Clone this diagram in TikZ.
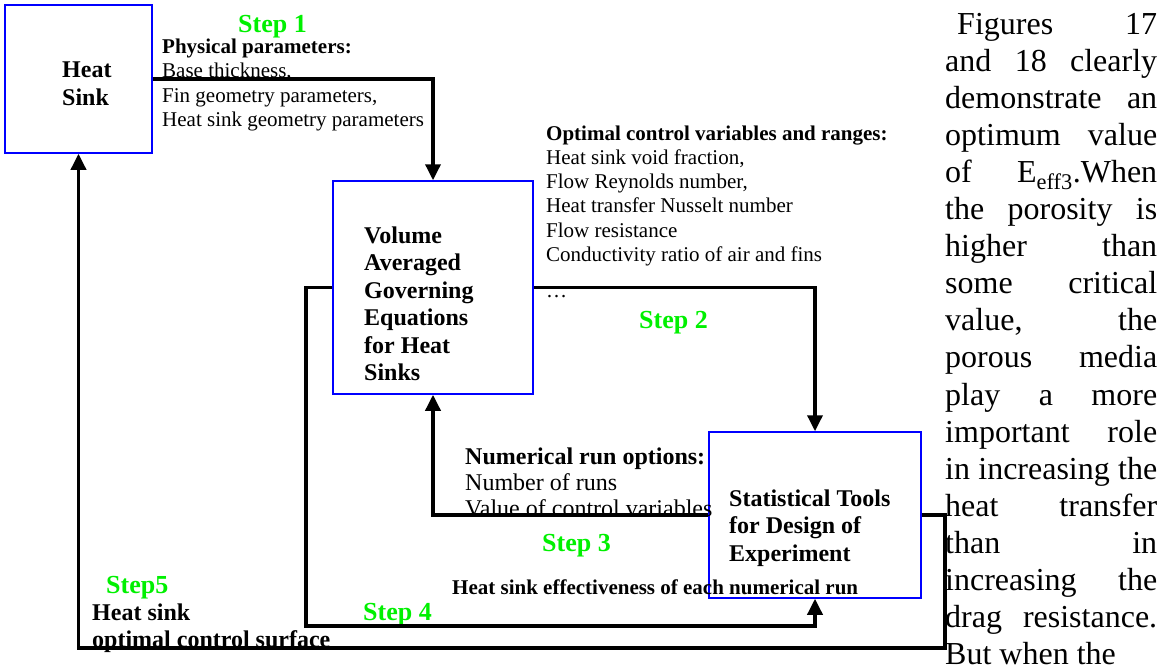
\documentclass[tikz,border=0pt]{standalone}
\usepackage{fontspec}
\setmainfont{Liberation Serif}
\usetikzlibrary{arrows.meta}
\definecolor{stepgreen}{RGB}{0,240,0}
\definecolor{boxblue}{RGB}{0,0,255}
\newcommand{\stk}[2]{\vtop{\baselineskip=#1\relax\lineskiplimit=-\maxdimen\lineskip=0pt #2}}
\newcommand{\fs}[1]{\fontsize{#1}{#1}\selectfont}
\newcommand{\jl}[1]{\hbox{\makebox[212pt][s]{#1}}}
\begin{document}
\begin{tikzpicture}[x=1pt,y=-1pt,
  blk/.style={draw=boxblue,line width=1.5pt,inner sep=0pt},
  conn/.style={line width=3.5pt,-{Triangle[width=15pt,length=16pt]}},
  txt/.style={anchor=base west,inner sep=0pt},
  steplbl/.style={txt,text=stepgreen,font=\fs{26}\bfseries},
  boxlbl/.style={txt,font=\fs{24}\bfseries},
  partxt/.style={txt,font=\fs{21}},
  numtxt/.style={txt,font=\fs{24}}]
\useasboundingbox (0,0) rectangle (1165,672);

% boxes
\node[blk,minimum width=147pt,minimum height=148pt] (hs) at (78.5,79) {};
\node[blk,minimum width=200pt,minimum height=213pt] (vage) at (433,287.5) {};
\node[blk,minimum width=212pt,minimum height=166pt] (stat) at (815,515) {};

% box labels
\node[boxlbl] (hslbl) at (62,77) {\stk{28pt}{\hbox{Heat}\hbox{Sink}}};
\node[boxlbl] (vagelbl) at (364,243) {\stk{27.5pt}{\hbox{Volume}\hbox{Averaged}\hbox{Governing}\hbox{Equations}\hbox{for Heat}\hbox{Sinks}}};
\node[boxlbl] (statlbl) at (729,506) {\stk{27.5pt}{\hbox{Statistical Tools}\hbox{for Design of}\hbox{Experiment}}};

% connector texts
\node[partxt] (phys) at (162,53) {\stk{24.5pt}{\hbox{\bfseries Physical parameters:}\hbox{Base thickness,}\hbox{Fin geometry parameters,}\hbox{Heat sink geometry parameters}}};
\node[partxt] (opt) at (546,140) {\stk{24.3pt}{\hbox{\bfseries Optimal control variables and ranges:}\hbox{Heat sink void fraction,}\hbox{Flow Reynolds number,}\hbox{Heat transfer Nusselt number}\hbox{Flow resistance}\hbox{Conductivity ratio of air and fins}}};
\node[partxt] (dots) at (546,297) {…};
\node[numtxt] (numrun) at (465,464) {\stk{26pt}{\hbox{\bfseries Numerical run options:}\hbox{Number of runs}\hbox{Value of control variables}}};
\node[txt,font=\fs{21}\bfseries] (eff) at (452,594) {Heat sink effectiveness of each numerical run};
\node[txt,font=\fs{24}\bfseries] (surf) at (92,620) {\stk{27pt}{\hbox{Heat sink}\hbox{optimal control surface}}};

% step labels
\node[steplbl] (s1) at (238,32) {Step 1};
\node[steplbl] (s2) at (639,328) {Step 2};
\node[steplbl] (s3) at (542,551) {Step 3};
\node[steplbl] (s4) at (363,620) {Step 4};
\node[steplbl] (s5) at (106,593) {Step5};

% right column paragraph
\node[txt,font=\fs{32}] (para) at (945,34) {\stk{37.1pt}{%
\jl{\hspace{12pt}Figures 17}%
\jl{and 18 clearly}%
\jl{demonstrate an}%
\jl{optimum value}%
\jl{of E\textsubscript{eff3}.When}%
\jl{the porosity is}%
\jl{higher than}%
\jl{some critical}%
\jl{value, the}%
\jl{porous media}%
\jl{play a more}%
\jl{important role}%
\jl{in increasing the}%
\jl{heat transfer}%
\jl{than in}%
\jl{increasing the}%
\jl{drag resistance.}%
\hbox{But when the}}};

% connectors
\coordinate (c4) at (306,626);
\coordinate (c5) at (945,648);
\draw[conn] (hs.east) -| (vage.north);
\draw[conn] (vage.east) -| (stat.north);
\draw[conn] (stat.west) -| (vage.south);
\draw[conn] (vage.west) -| (c4) -| (stat.south);
\draw[conn] (stat.east) -| (c5) -| (hs.south);
\end{tikzpicture}
\end{document}
